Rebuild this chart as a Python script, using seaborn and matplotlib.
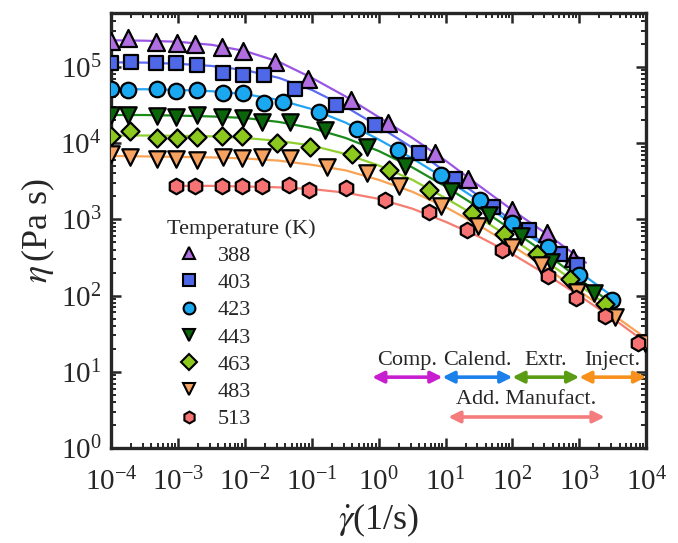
import matplotlib
matplotlib.use("Agg")
import matplotlib.pyplot as plt
import seaborn as sns
import pandas as pd
from matplotlib.lines import Line2D
from matplotlib.ticker import LogLocator, NullFormatter

# temperatures (K) and styling per series
temps = ["388", "403", "423", "443", "463", "483", "513"]
markers = ["^", "s", "o", "v", "D", "v", "h"]
sizes = [150, 105, 125, 140, 85, 140, 125]
fill_colors = ["#B06EE0", "#4E68E8", "#1AA8F0", "#0B650B", "#8DC81E", "#F6A261", "#F77272"]
line_colors = ["#9B55E6", "#5A6CF2", "#22A4F4", "#1A8A1A", "#8FD02E", "#F8A355", "#F57D72"]

# measured viscosity, shear rate (1/s) -> eta (Pa s)
rate_388 = [1.0e-4, 1.8e-4, 4.6e-4, 9.8e-4, 1.8e-3, 4.6e-3, 9.3e-3, 2.8e-2, 8.7e-2, 0.39, 1.4, 6.9, 22, 100, 330, 810]
eta_388 = [2.2e5, 2.4e5, 2.15e5, 2.05e5, 2.0e5, 1.8e5, 1.6e5, 1.17e5, 6.9e4, 3.7e4, 1.86e4, 7.4e3, 3.4e3, 1.32e3, 660, 310]

rate_403 = [1.0e-4, 2.0e-4, 4.6e-4, 9.3e-4, 1.9e-3, 4.7e-3, 9.3e-3, 1.9e-2, 5.6e-2, 0.23, 0.89, 4.0, 14, 52, 180, 510, 930]
eta_403 = [1.12e5, 1.17e5, 1.12e5, 1.12e5, 1.07e5, 8.3e4, 7.9e4, 7.9e4, 5.2e4, 3.2e4, 1.74e4, 7.4e3, 3.4e3, 1.45e3, 720, 355, 250]

rate_423 = [1.0e-4, 1.8e-4, 4.9e-4, 9.3e-4, 1.9e-3, 4.7e-3, 9.3e-3, 1.9e-2, 3.7e-2, 0.13, 0.48, 1.95, 8.5, 33, 100, 340, 1000, 3100]
eta_423 = [5.1e4, 5.0e4, 5.1e4, 4.9e4, 5.0e4, 4.6e4, 4.5e4, 3.4e4, 3.5e4, 2.6e4, 1.55e4, 8.1e3, 3.8e3, 1.78e3, 890, 440, 186, 87]

rate_443 = [1.0e-4, 1.8e-4, 4.9e-4, 9.3e-4, 1.9e-3, 4.6e-3, 9.3e-3, 1.8e-2, 4.8e-2, 0.16, 0.68, 2.5, 12, 45, 135, 380, 1660]
eta_443 = [2.35e4, 2.35e4, 2.3e4, 2.2e4, 2.35e4, 2.2e4, 2.15e4, 1.9e4, 1.9e4, 1.48e4, 8.9e3, 5.0e3, 2.35e3, 1.15e3, 600, 275, 108]

rate_463 = [1.0e-4, 1.9e-4, 4.9e-4, 9.8e-4, 1.9e-3, 4.6e-3, 9.1e-3, 3.0e-2, 9.3e-2, 0.40, 1.45, 5.6, 25, 74, 230, 720, 2400]
eta_463 = [1.24e4, 1.45e4, 1.17e4, 1.17e4, 1.2e4, 1.24e4, 1.24e4, 1.0e4, 8.9e3, 7.2e3, 4.5e3, 2.45e3, 1.2e3, 650, 355, 165, 78]

rate_483 = [1.0e-4, 1.9e-4, 4.9e-4, 9.3e-4, 1.9e-3, 4.7e-3, 9.1e-3, 1.8e-2, 4.8e-2, 0.17, 0.68, 2.0, 8.5, 31, 100, 270, 930, 3400, 9500]
eta_483 = [7.1e3, 6.6e3, 6.2e3, 6.2e3, 6.0e3, 6.6e3, 6.4e3, 6.6e3, 6.4e3, 4.9e3, 4.0e3, 2.7e3, 1.5e3, 810, 440, 250, 112, 52, 24]

rate_513 = [9.3e-4, 1.8e-3, 4.6e-3, 9.1e-3, 1.8e-2, 4.6e-2, 9.1e-2, 0.32, 1.26, 5.6, 21, 69, 340, 890, 2400, 7600]
eta_513 = [2.7e3, 2.7e3, 2.7e3, 2.7e3, 2.7e3, 2.8e3, 2.45e3, 2.6e3, 1.8e3, 1.25e3, 720, 400, 180, 93, 54, 24]

# fitted curves
fit_rate_388 = [1e-4, 3.2e-4, 1e-3, 3.2e-3, 1e-2, 3.2e-2, 0.1, 0.32, 1, 3.2, 10, 32, 100, 320, 1260]
fit_eta_388 = [2.24e5, 2.21e5, 2.14e5, 1.95e5, 1.62e5, 1.17e5, 7.2e4, 4.1e4, 2.2e4, 1.17e4, 5.9e3, 2.75e3, 1.32e3, 650, 270]

fit_rate_403 = [1e-4, 3.2e-4, 1e-3, 3.2e-3, 1e-2, 3.2e-2, 0.1, 0.32, 1, 3.2, 10, 32, 100, 320, 1260]
fit_eta_403 = [1.15e5, 1.14e5, 1.10e5, 1.03e5, 9.1e4, 7.2e4, 5.0e4, 3.0e4, 1.66e4, 8.7e3, 4.2e3, 2.0e3, 950, 460, 190]

fit_rate_423 = [1e-4, 3.2e-4, 1e-3, 3.2e-3, 1e-2, 3.2e-2, 0.1, 0.32, 1, 3.2, 10, 32, 100, 320, 1000, 2800]
fit_eta_423 = [5.1e4, 5.1e4, 5.0e4, 4.8e4, 4.4e4, 3.7e4, 2.8e4, 1.86e4, 1.12e4, 6.3e3, 3.4e3, 1.74e3, 870, 430, 205, 105]

fit_rate_443 = [1e-4, 3.2e-4, 1e-3, 3.2e-3, 1e-2, 3.2e-2, 0.1, 0.32, 1, 3.2, 10, 32, 100, 320, 1000, 2800]
fit_eta_443 = [2.34e4, 2.34e4, 2.3e4, 2.24e4, 2.14e4, 1.9e4, 1.58e4, 1.17e4, 7.9e3, 4.8e3, 2.7e3, 1.41e3, 720, 355, 166, 83]

fit_rate_463 = [1e-4, 3.2e-4, 1e-3, 3.2e-3, 1e-2, 3.2e-2, 0.1, 0.32, 1, 3.2, 10, 32, 100, 320, 1000, 2800]
fit_eta_463 = [1.26e4, 1.26e4, 1.25e4, 1.23e4, 1.17e4, 1.07e4, 9.3e3, 7.2e3, 5.1e3, 3.3e3, 1.9e3, 1.05e3, 550, 280, 138, 71]

fit_rate_483 = [1e-4, 3.2e-4, 1e-3, 3.2e-3, 1e-2, 3.2e-2, 0.1, 0.32, 1, 3.2, 10, 32, 100, 320, 1000, 3200, 10000]
fit_eta_483 = [6.8e3, 6.7e3, 6.6e3, 6.5e3, 6.3e3, 5.9e3, 5.2e3, 4.4e3, 3.3e3, 2.3e3, 1.45e3, 830, 450, 230, 115, 56, 27.5]

fit_rate_513 = [1e-3, 3.2e-3, 1e-2, 3.2e-2, 0.1, 0.32, 1, 3.2, 10, 32, 100, 320, 1000, 3200, 10000]
fit_eta_513 = [2.75e3, 2.75e3, 2.7e3, 2.63e3, 2.5e3, 2.24e3, 1.86e3, 1.38e3, 930, 590, 350, 190, 100, 50, 24]

# processing windows (shear-rate ranges)
process_names = ["Comp.", "Calend.", "Extr.", "Inject."]
process_edges = [0.8, 9, 100, 1000, 10000]
process_colors = ["#C71FD0", "#1C80EA", "#5A9C14", "#F8901C"]
am_name = "Add. Manufact."
am_range = [11, 2400]
am_color = "#F47C7C"

points = [(rate_388, eta_388), (rate_403, eta_403), (rate_423, eta_423), (rate_443, eta_443),
          (rate_463, eta_463), (rate_483, eta_483), (rate_513, eta_513)]
fits = [(fit_rate_388, fit_eta_388), (fit_rate_403, fit_eta_403), (fit_rate_423, fit_eta_423),
        (fit_rate_443, fit_eta_443), (fit_rate_463, fit_eta_463), (fit_rate_483, fit_eta_483),
        (fit_rate_513, fit_eta_513)]

pts_df = pd.concat([pd.DataFrame({"rate": r, "eta": e, "T": t}) for t, (r, e) in zip(temps, points)])
fit_df = pd.concat([pd.DataFrame({"rate": r, "eta": e, "T": t}) for t, (r, e) in zip(temps, fits)])

sns.set_style("ticks")
plt.rcParams["font.family"] = ["Liberation Serif", "DejaVu Serif"]
plt.rcParams["mathtext.fontset"] = "stix"
plt.rcParams["axes.unicode_minus"] = False

fig, ax = plt.subplots(figsize=(6.78, 5.43), dpi=100)
fig.subplots_adjust(left=0.164, right=0.953, bottom=0.175, top=0.976)

sns.lineplot(data=fit_df, x="rate", y="eta", hue="T", palette=dict(zip(temps, line_colors)),
             estimator=None, sort=False, lw=1.6, legend=False, ax=ax, zorder=2)

for t, m, s, c in zip(temps, markers, sizes, fill_colors):
    sns.scatterplot(data=pts_df[pts_df["T"] == t], x="rate", y="eta", marker=m, s=s,
                    color=c, edgecolor="black", linewidth=1.6, legend=False, ax=ax, zorder=3)

ax.set_xscale("log")
ax.set_yscale("log")
ax.set_xlim(1e-4, 1e4)
ax.set_ylim(1, 5.1e5)

ax.xaxis.set_major_locator(LogLocator(base=10, numticks=20))
ax.yaxis.set_major_locator(LogLocator(base=10, numticks=20))
ax.xaxis.set_minor_locator(LogLocator(base=10, subs=range(2, 10), numticks=100))
ax.yaxis.set_minor_locator(LogLocator(base=10, subs=range(2, 10), numticks=100))
ax.xaxis.set_minor_formatter(NullFormatter())
ax.yaxis.set_minor_formatter(NullFormatter())

ax.tick_params(which="both", direction="in", top=True, right=True)
ax.tick_params(which="major", length=7, width=1.8, labelsize=21, pad=7)
ax.tick_params(axis="x", which="major", pad=14)
ax.tick_params(which="minor", length=3.5, width=1.4)
for sp in ax.spines.values():
    sp.set_linewidth(2.4)

ax.set_xlabel(r"$\dot{\gamma}$(1/s)", fontsize=26, labelpad=4)
ax.set_ylabel(r"$\eta\,$(Pa s)", fontsize=26, labelpad=2)

# processing arrows
arrow_y = 8.5
for name, x0, x1, c in zip(process_names, process_edges[:-1], process_edges[1:], process_colors):
    ax.annotate("", xy=(x1, arrow_y), xytext=(x0, arrow_y),
                arrowprops=dict(arrowstyle="<|-|>", color=c, lw=2.6, mutation_scale=17,
                                shrinkA=0, shrinkB=0), zorder=4)
    ax.text((x0 * x1) ** 0.5, 14, name, ha="center", va="center", fontsize=16)
ax.annotate("", xy=(am_range[1], 2.55), xytext=(am_range[0], 2.55),
            arrowprops=dict(arrowstyle="<|-|>", color=am_color, lw=2.6, mutation_scale=17,
                            shrinkA=0, shrinkB=0), zorder=4)
ax.text((am_range[0] * am_range[1]) ** 0.5, 4.3, am_name, ha="center", va="center", fontsize=16)

handles = [Line2D([], [], ls="none", marker=m, markersize=8.5, markerfacecolor=c,
                  markeredgecolor="black", markeredgewidth=1.5)
           for m, c in zip(markers, fill_colors)]
ax.legend(handles, temps, title="Temperature (K)", loc="upper left", bbox_to_anchor=(0.075, 0.562),
          frameon=False, fontsize=16, title_fontsize=16, alignment="left",
          handlelength=2.0, handletextpad=0.3, labelspacing=0.3, borderpad=0.2)

fig.savefig("out.png", dpi=100)
